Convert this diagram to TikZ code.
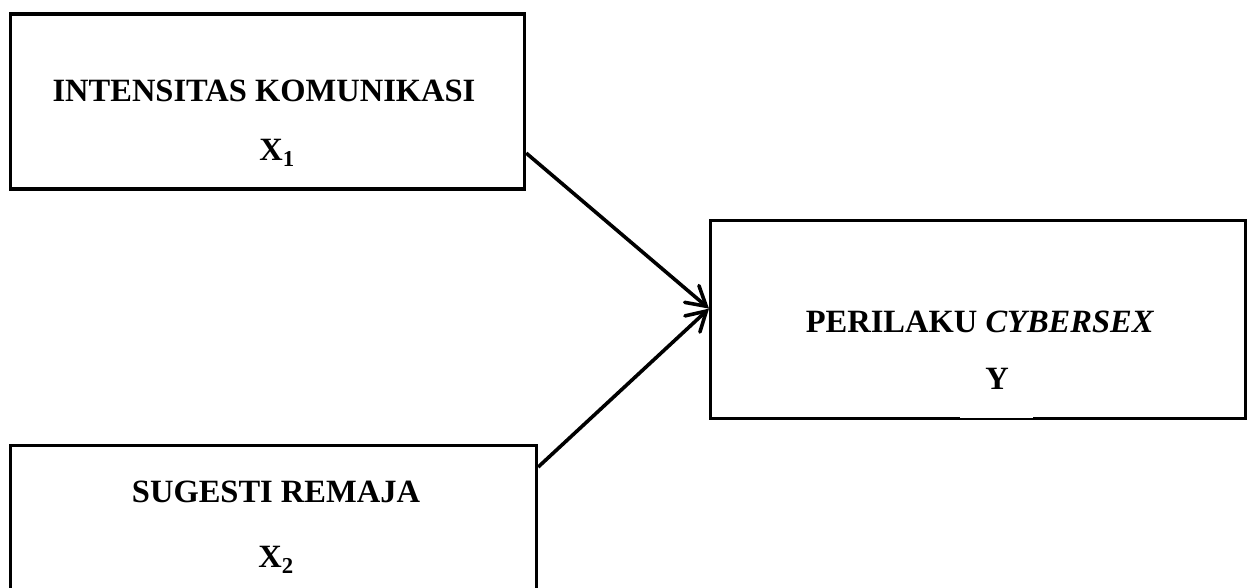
\documentclass[tikz,border=0pt]{standalone}
\usepackage{fontspec}
\setmainfont{Liberation Serif}
\usetikzlibrary{arrows.meta}
\tikzset{
  box/.style={draw=black, line width=3.2pt, inner sep=0pt, anchor=north west},
  lbl/.style={font=\fontsize{32.5}{40}\selectfont\bfseries, inner sep=0pt},
  conn/.style={line width=3.6pt, -{Straight Barb[length=19pt,width=22pt,line cap=round]}}
}
\begin{document}
\begin{tikzpicture}[x=1pt,y=-1pt]
\useasboundingbox (0,0) rectangle (1250,588);
\clip (0,0) rectangle (1250,588);
\node[box, minimum width=514pt, minimum height=175pt] (b1) at (9,12.5) {};
\node[box, minimum width=526pt, minimum height=200pt] (b2) at (9,444) {};
\node[box, minimum width=535pt, minimum height=198pt] (b3) at (709,219) {};
\draw[white, line width=2pt] (960,416.8) -- (1033,416.8);
\node[lbl] (t1) at (264,91) {INTENSITAS KOMUNIKASI};
\node[lbl] (x1) at (277,153) {X\textsubscript{1}};
\node[lbl] (t2) at (276,492) {SUGESTI REMAJA};
\node[lbl] (x2) at (276,560) {X\textsubscript{2}};
\node[lbl] (t3) at (980,322) {PERILAKU \textit{CYBERSEX}};
\node[lbl] (y) at (997,379) {Y};
\draw[conn] ([yshift=-51.5pt]b1.east) -- ([yshift=11pt]b3.west);
\draw[conn] ([yshift=-23pt]b2.north east) -- ([yshift=11pt]b3.west);
\end{tikzpicture}
\end{document}
